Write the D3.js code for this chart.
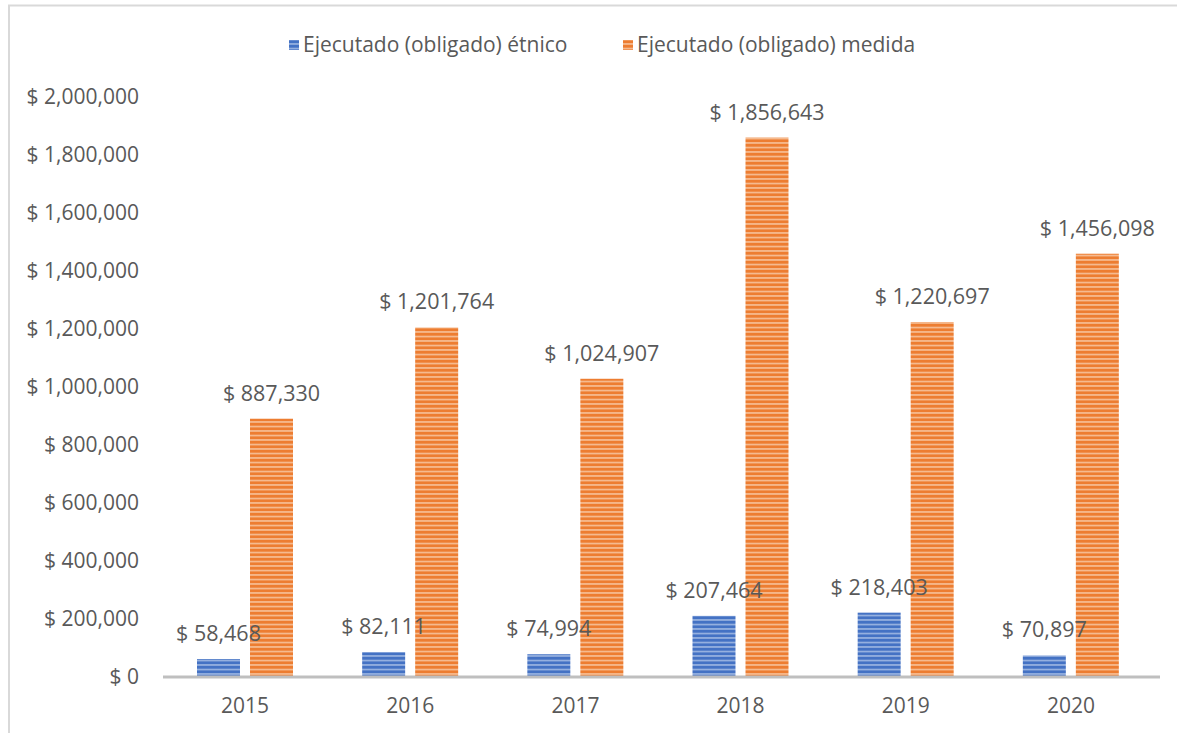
<!DOCTYPE html>
<html>
<head>
<meta charset="utf-8">
<script src="https://cdn.jsdelivr.net/npm/d3@7"></script>
<style>
  html, body { margin: 0; padding: 0; background: #ffffff; }
  svg { display: block; }
  text { font-family: "Open Sans", "Liberation Sans", sans-serif; fill: #595959; }
</style>
</head>
<body>
<svg id="chart" width="1177" height="733"></svg>
<script>
// Años y montos ejecutados (obligados)
const years = ["2015", "2016", "2017", "2018", "2019", "2020"];
const etnico = [58468, 82111, 74994, 207464, 218403, 70897];
const medida = [887330, 1201764, 1024907, 1856643, 1220697, 1456098];
const seriesNames = ["Ejecutado (obligado) étnico", "Ejecutado (obligado) medida"];
const yTicks = [0, 200000, 400000, 600000, 800000, 1000000, 1200000, 1400000, 1600000, 1800000, 2000000];

const svg = d3.select("#chart");
const W = 1177, H = 733;

// Rayado horizontal de cada serie
const defs = svg.append("defs");
const patterns = [
  { id: "stripeBlue", base: "#4472C4", light: "#a9bfe6" },
  { id: "stripeOrange", base: "#ED7D31", light: "#f8c9a6" }
];
patterns.forEach(p => {
  const pat = defs.append("pattern")
    .attr("id", p.id)
    .attr("patternUnits", "userSpaceOnUse")
    .attr("width", 8).attr("height", 4.5);
  pat.append("rect").attr("width", 8).attr("height", 4.5).attr("fill", p.base);
  pat.append("rect").attr("y", 2.8).attr("width", 8).attr("height", 1.4).attr("fill", p.light);
});
const fills = ["url(#stripeBlue)", "url(#stripeOrange)"];

// Marco del gráfico
svg.append("path")
  .attr("d", `M9,${H} V5.5 H${W}`)
  .attr("fill", "none")
  .attr("stroke", "#d9d9d9")
  .attr("stroke-width", 2);

const plot = { left: 164, right: 1155, top: 96, bottom: 676 };

const x0 = d3.scaleBand().domain(years).range([plot.left, plot.right]).padding(0);
const x1 = d3.scaleBand().domain([0, 1]).range([33, 129]).paddingInner(0.189).paddingOuter(0);
const y = d3.scaleLinear().domain([0, 2000000]).range([plot.bottom, plot.top]);

const money = v => "$ " + d3.format(",")(v);

// Eje Y (solo etiquetas)
const yAxis = d3.axisLeft(y).tickValues(yTicks).tickFormat(money).tickSize(0).tickPadding(0);
const gy = svg.append("g").attr("transform", `translate(139,0)`).call(yAxis);
gy.select(".domain").remove();
gy.selectAll("text")
  .style("font-size", "21px")
  .style("font-family", "\"Open Sans\", sans-serif")
  .attr("fill", "#595959")
  .attr("dy", "0.35em");

// Barras
const series = [etnico, medida];
series.forEach((vals, si) => {
  const g = svg.append("g");
  g.selectAll("rect")
    .data(years.map((yr, i) => ({ yr, v: vals[i] })))
    .join("rect")
    .attr("x", d => x0(d.yr) + x1(si))
    .attr("y", d => y(d.v))
    .attr("width", x1.bandwidth())
    .attr("height", d => y(0) - y(d.v))
    .attr("fill", fills[si]);
});

// Línea base
svg.append("line")
  .attr("x1", plot.left - 1).attr("x2", 1160)
  .attr("y1", plot.bottom + 1).attr("y2", plot.bottom + 1)
  .attr("stroke", "#bfbfbf").attr("stroke-width", 3);

// Etiquetas de datos
series.forEach((vals, si) => {
  svg.append("g").selectAll("text")
    .data(years.map((yr, i) => ({ yr, v: vals[i] })))
    .join("text")
    .attr("x", d => x0(d.yr) + x1(si) + x1.bandwidth() / 2)
    .attr("y", d => y(d.v) - 18)
    .attr("text-anchor", "middle")
    .style("font-size", "21.5px")
    .attr("fill", "#404040")
    .text(d => money(d.v));
});

// Eje X
const xAxis = d3.axisBottom(x0).tickSize(0).tickPadding(0);
const gx = svg.append("g").attr("transform", `translate(0,${plot.bottom})`).call(xAxis);
gx.select(".domain").remove();
gx.selectAll("text")
  .attr("x", -1.5)
  .attr("y", 37)
  .attr("dy", 0)
  .style("font-size", "21px")
  .style("font-family", "\"Open Sans\", sans-serif")
  .attr("fill", "#595959");

// Leyenda
const legend = svg.append("g");
const legendItems = [
  { x: 289, name: seriesNames[0], fill: fills[0] },
  { x: 623, name: seriesNames[1], fill: fills[1] }
];
legendItems.forEach(it => {
  legend.append("rect")
    .attr("x", it.x).attr("y", 40).attr("width", 10).attr("height", 10)
    .attr("fill", it.fill);
  legend.append("text")
    .attr("x", it.x + 14).attr("y", 52)
    .style("font-size", "21px")
    .attr("fill", "#595959")
    .text(it.name);
});
</script>
</body>
</html>
